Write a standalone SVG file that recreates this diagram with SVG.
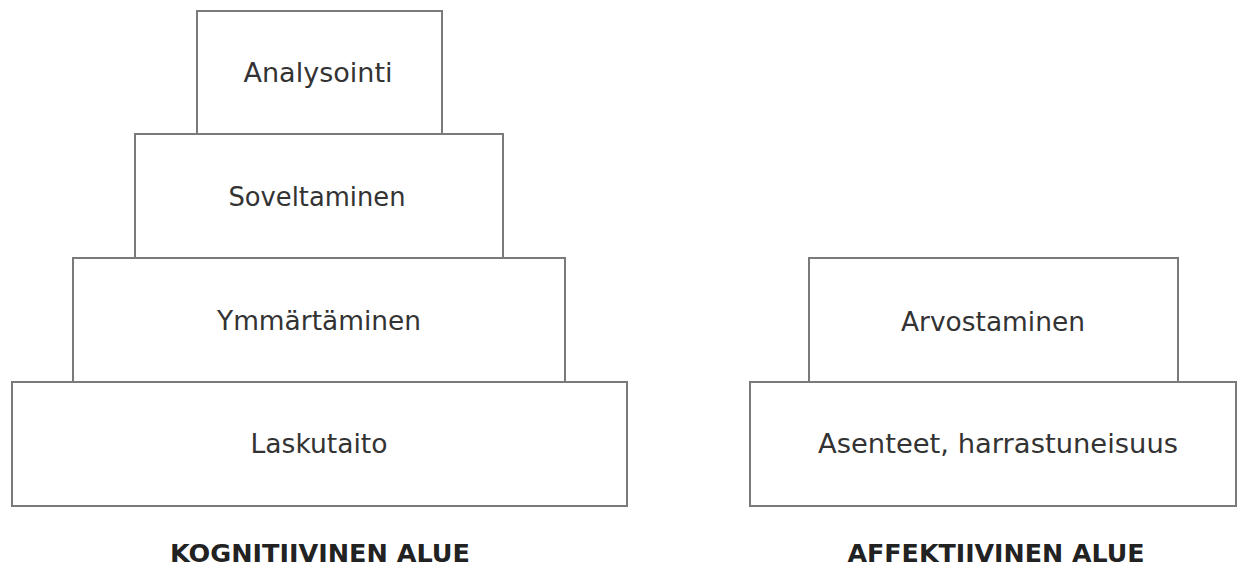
<svg xmlns="http://www.w3.org/2000/svg" width="1239" height="570" viewBox="0 0 1239 570">
  <style>
    .box { fill: #ffffff; stroke: #7a7a7a; stroke-width: 2; }
    .lbl { font-family: "DejaVu Sans", "Liberation Sans", sans-serif; font-size: 26px; fill: #333333; text-anchor: middle; }
    .title { font-family: "DejaVu Sans", "Liberation Sans", sans-serif; font-size: 25px; font-weight: bold; fill: #222222; text-anchor: middle; }
  </style>
  <rect width="1239" height="570" fill="#ffffff"/>

  <!-- cognitive pyramid -->
  <g id="analysointi">
    <rect class="box" x="197" y="11" width="245" height="123"/>
    <text class="lbl" x="318" y="82" textLength="149" lengthAdjust="spacingAndGlyphs">Analysointi</text>
  </g>
  <g id="soveltaminen">
    <rect class="box" x="135" y="134" width="368" height="124"/>
    <text class="lbl" x="317" y="206" textLength="177" lengthAdjust="spacingAndGlyphs">Soveltaminen</text>
  </g>
  <g id="ymmartaminen">
    <rect class="box" x="73" y="258" width="492" height="124"/>
    <text class="lbl" x="319" y="330" textLength="204" lengthAdjust="spacingAndGlyphs">Ymmärtäminen</text>
  </g>
  <g id="laskutaito">
    <rect class="box" x="12" y="382" width="615" height="124"/>
    <text class="lbl" x="319" y="453" textLength="137" lengthAdjust="spacingAndGlyphs">Laskutaito</text>
  </g>

  <!-- affective pyramid -->
  <g id="arvostaminen">
    <rect class="box" x="809" y="258" width="369" height="124"/>
    <text class="lbl" x="993" y="331" textLength="184" lengthAdjust="spacingAndGlyphs">Arvostaminen</text>
  </g>
  <g id="asenteet">
    <rect class="box" x="750" y="382" width="486" height="124"/>
    <text class="lbl" x="998" y="453" textLength="360" lengthAdjust="spacingAndGlyphs">Asenteet, harrastuneisuus</text>
  </g>

  <!-- area titles -->
  <g id="kognitiivinen">
    <text class="title" x="320" y="562" textLength="300" lengthAdjust="spacingAndGlyphs">KOGNITIIVINEN ALUE</text>
  </g>
  <g id="affektiivinen">
    <text class="title" x="996" y="562" textLength="297" lengthAdjust="spacingAndGlyphs">AFFEKTIIVINEN ALUE</text>
  </g>

  <g id="connectors"/>
</svg>
